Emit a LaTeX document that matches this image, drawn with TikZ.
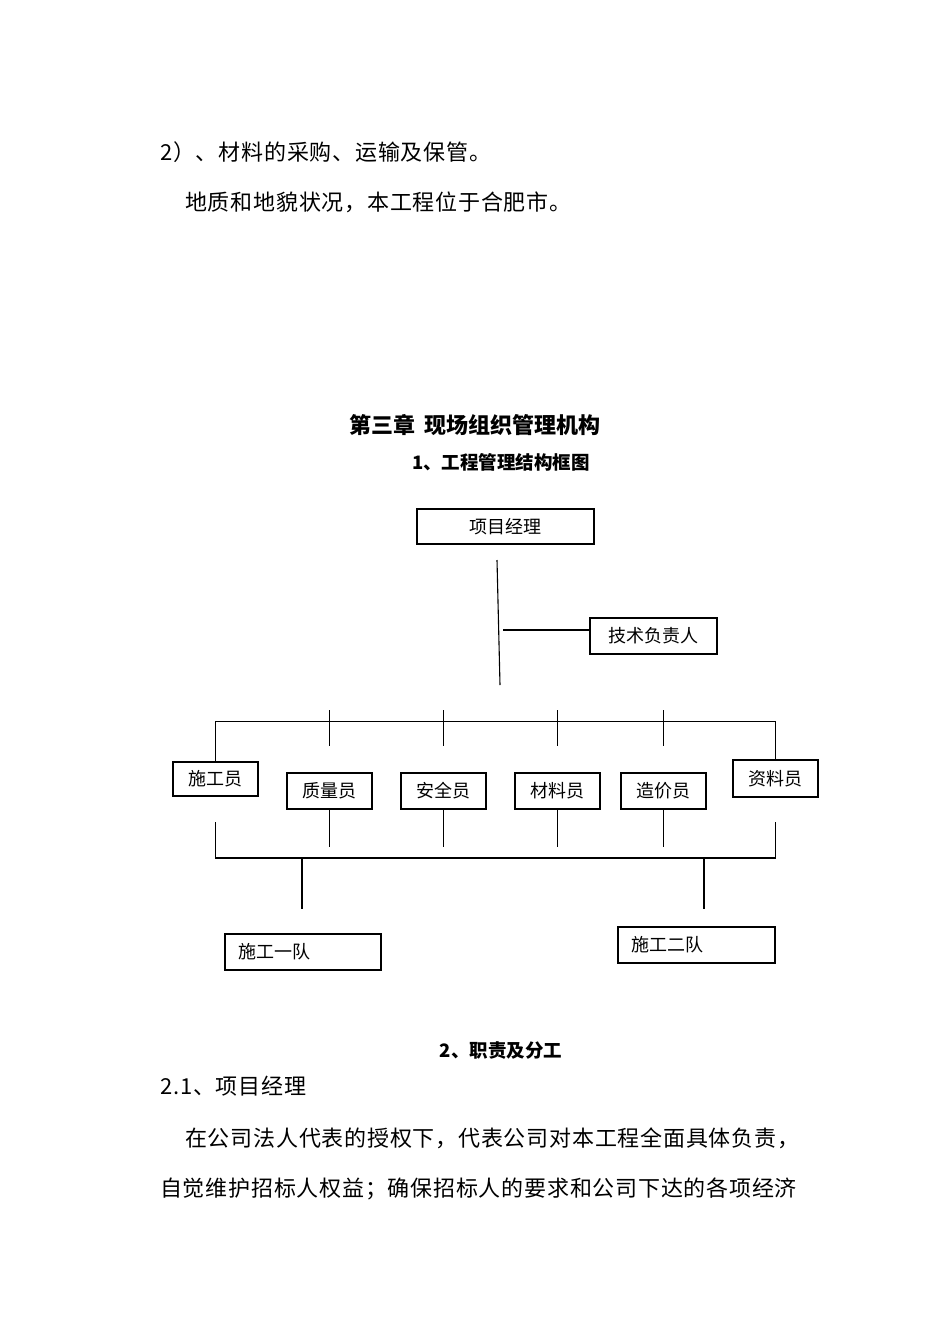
\documentclass[tikz,border=0pt]{standalone}
\usepackage{fontspec}
\setmainfont{Noto Sans CJK SC}
\newfontfamily\bodyfont[LetterSpace=3.5]{Noto Sans CJK SC}
\begin{document}
\begin{tikzpicture}[x=1pt,y=-1pt, every node/.style={font=\fontsize{18}{20}\selectfont}]
  \tikzstyle{box}=[draw,line width=1.1pt,minimum height=36pt,minimum width=85pt,inner sep=0pt]
  \tikzstyle{team}=[draw,line width=1.1pt,minimum height=36pt,text width=130pt,inner xsep=13pt,inner ysep=0pt,align=left]
  \tikzstyle{body}=[anchor=base west,inner sep=0pt,font=\bodyfont\fontsize{22}{24}\selectfont]
  \tikzstyle{head}=[anchor=base,inner sep=0pt,font=\bfseries\fontsize{18.5}{20}\selectfont]
  \tikzstyle{link}=[line width=1.1pt]
  \useasboundingbox (0,0) rectangle (950,1344);
  % running text above
  \node[body] (l1) at (160,160) {2）、材料的采购、运输及保管。};
  \node[body] (l2) at (185,210) {地质和地貌状况，本工程位于合肥市。};
  \node[head,font=\bfseries\fontsize{22}{24}\selectfont] (ch) at (475,433) {第三章\hspace{10pt}现场组织管理机构};
  \node[head] (sub) at (501,469) {1、工程管理结构框图};
  % chart
  \node[box,minimum width=177pt,minimum height=35pt] (pm) at (505.5,526.5) {项目经理};
  \node[box,minimum width=127pt] (tech) at (653.5,636) {技术负责人};
  \node[box,minimum height=34pt] (sgy) at (215.5,779) {施工员};
  \node[box] (zly) at (329.5,791) {质量员};
  \node[box] (aqy) at (443.5,791) {安全员};
  \node[box] (cly) at (557.5,791) {材料员};
  \node[box] (zjy) at (663.5,791) {造价员};
  \node[box,minimum height=37pt] (zlr) at (775.5,778.5) {资料员};
  \node[team,minimum width=156pt] (t1) at (303,952) {施工一队};
  \node[team,minimum width=157pt] (t2) at (696.5,945) {施工二队};
  \coordinate (ma) at (497,560);
  \coordinate (mb) at (500,685);
  \coordinate (ta) at (503,630);
  \draw[link] (ma) -- (mb);
  \draw[link] (ta) -- (ta -| tech.west);
  \draw[link] (sgy.north) -- ++(0,-40) -| (zlr.north);
  \foreach \b in {zly,aqy,cly,zjy} {
    \draw[link] (\b.north |- 0,710) -- (\b.north |- 0,746);
    \draw[link] (\b.south) -- ++(0,37);
  }
  \coordinate (ba) at (215.5,822);
  \coordinate (bb) at (775.5,822);
  \draw[link] (ba) -- ++(0,36) -| (bb);
  \coordinate (da) at (302,858);
  \coordinate (db) at (704,858);
  \draw[link] (da) -- ++(0,51);
  \draw[link] (db) -- ++(0,51);
  % running text below
  \node[head] (sec) at (501,1057) {2、职责及分工};
  \node[body] (l3) at (160,1094) {2.1、项目经理};
  \node[body] (l4) at (185,1146) {在公司法人代表的授权下，代表公司对本工程全面具体负责，};
  \node[body] (l5) at (160,1196) {自觉维护招标人权益；确保招标人的要求和公司下达的各项经济};
\end{tikzpicture}
\end{document}
